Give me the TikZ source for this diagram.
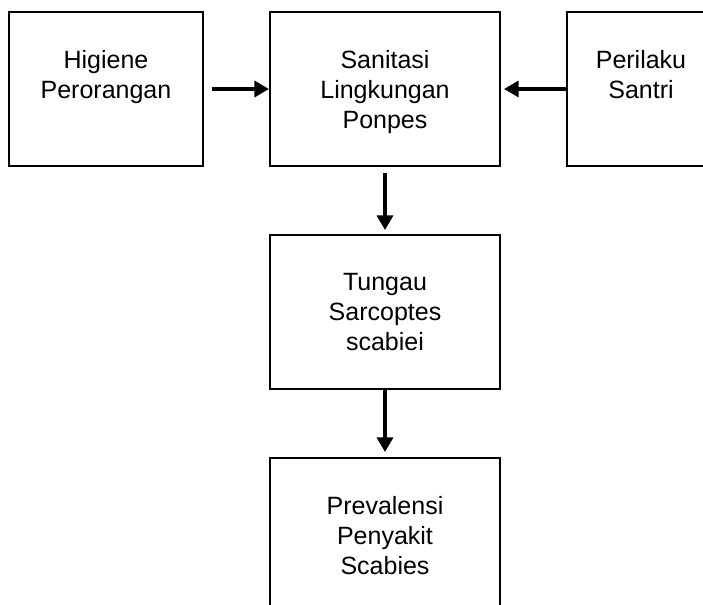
\documentclass[tikz,border=0pt]{standalone}
\usepackage{fontspec}
\setmainfont{Liberation Sans}
\usetikzlibrary{positioning,arrows.meta}

\tikzset{
  box/.style={draw, line width=1.5pt, minimum height=115.5pt, inner sep=0pt},
  txt/.style={anchor=north, yshift=-29pt, align=center, inner sep=0pt,
    font=\fontsize{18.75}{22.5}\selectfont},
  arr/.style={line width=#1, -{Triangle[length=11pt,width=12pt]}},
}

\begin{document}
\begin{tikzpicture}
    \useasboundingbox (-288.75pt,-386.25pt) rectangle (238.5pt,66.75pt);
    \clip (-288.75pt,-386.25pt) rectangle (238.5pt,66.75pt);
    \node[box, minimum width=172.5pt, label={[txt]north:Sanitasi\\Lingkungan\\Ponpes}] (sanit) at (0,0) {};
    \node[box, minimum width=145.5pt, left=48.75pt of sanit, label={[txt]north:Higiene\\Perorangan}] (higiene) {};
    \node[box, minimum width=111pt, right=48.75pt of sanit, label={[txt]north:Perilaku\\Santri}] (santri) {};
    \node[box, minimum width=172.5pt, below=50.25pt of sanit, label={[txt]north:Tungau\\Sarcoptes\\scabiei}] (tungau) {};
    \node[box, minimum width=172.5pt, below=50.25pt of tungau, label={[txt]north:Prevalensi\\Penyakit\\Scabies}] (prev) {};
    % arrows
    \draw[arr=3.4pt] ([xshift=6pt]higiene.east) -- (sanit.west);
    \draw[arr=2.4pt] (santri.west) -- ([xshift=2.25pt]sanit.east);
    \draw[arr=3pt] ([yshift=-4.5pt]sanit.south) -- ([yshift=3pt]tungau.north);
    \draw[arr=3pt] (tungau.south) -- ([yshift=3.75pt]prev.north);
\end{tikzpicture}
\end{document}
